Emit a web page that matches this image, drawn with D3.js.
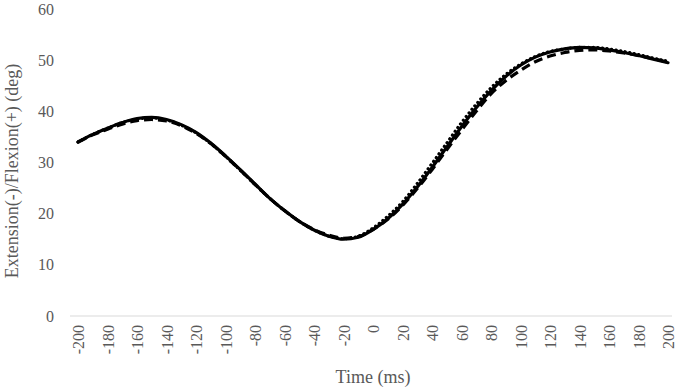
<!DOCTYPE html>
<html>
<head>
<meta charset="utf-8">
<script src="https://cdn.jsdelivr.net/npm/d3@7"></script>
<style>
    body { margin: 0; background: #fff; }
    svg text { font-family: "Liberation Serif", "Times New Roman", serif; fill: #595959; }
</style>
</head>
<body>
<svg id="chart"></svg>
<script>
// time in ms, every 10 ms
const times = [-200, -190, -180, -170, -160, -150, -140, -130, -120, -110, -100,
    -90, -80, -70, -60, -50, -40, -30, -20, -10, 0,
    10, 20, 30, 40, 50, 60, 70, 80, 90, 100,
    110, 120, 130, 140, 150, 160, 170, 180, 190, 200]

const solidValues = [34.0, 35.5, 36.7, 37.8, 38.6, 38.8, 38.4, 37.4, 35.9, 33.8, 31.3,
    28.6, 25.8, 23.0, 20.6, 18.5, 16.8, 15.6, 15.0, 15.4, 16.9,
    19.0, 21.8, 25.2, 29.0, 33.0, 37.0, 40.7, 44.0, 46.8, 49.0,
    50.6, 51.6, 52.2, 52.5, 52.4, 52.0, 51.5, 50.9, 50.2, 49.5]

const dashedValues = [34.0, 35.4, 36.5, 37.5, 38.2, 38.4, 38.1, 37.2, 35.7, 33.7, 31.2,
    28.5, 25.7, 23.0, 20.6, 18.5, 16.9, 15.8, 15.2, 15.5, 16.9,
    18.9, 21.6, 24.9, 28.6, 32.5, 36.3, 40.0, 43.4, 46.0, 48.0,
    49.7, 50.8, 51.5, 51.9, 52.0, 51.8, 51.4, 50.9, 50.3, 49.6]

const dottedValues = [34.0, 35.5, 36.7, 37.8, 38.5, 38.7, 38.3, 37.3, 35.8, 33.7, 31.2,
    28.5, 25.7, 23.0, 20.6, 18.5, 16.8, 15.6, 15.1, 15.6, 17.2,
    19.5, 22.3, 25.9, 29.8, 33.8, 37.8, 41.4, 44.6, 47.2, 49.2,
    50.7, 51.7, 52.2, 52.5, 52.5, 52.2, 51.7, 51.1, 50.4, 49.8]

const yTicks = [0, 10, 20, 30, 40, 50, 60]
const xTicks = d3.range(-200, 201, 20)

const series = [
    {name: "solid", values: solidValues, dash: null, cap: "round"},
    {name: "dashed", values: dashedValues, dash: "9,5", cap: "butt"},
    {name: "dotted", values: dottedValues, dash: "0.1,4.5", cap: "round"},
]

const width = 676, height = 392
const svg = d3.select("#chart")
    .attr("width", width)
    .attr("height", height)

const xScale = d3.scaleLinear()
    .domain([-200, 200])
    .range([78, 668])

const yScale = d3.scaleLinear()
    .domain([0, 60])
    .range([316, 9])

// plain hyphen minus like the original
const plain = (d) => String(d)

// y axis: labels only
const yAxis = svg.append("g")
    .attr("transform", "translate(58,0)")
    .call(d3.axisLeft(yScale).tickValues(yTicks).tickFormat(plain).tickSize(0).tickPadding(4))
yAxis.attr("font-family", null).attr("font-size", null)
yAxis.select(".domain").remove()
yAxis.selectAll("text")
    .attr("font-size", "16px")
    .attr("fill", "#595959")

// x axis
const xAxis = svg.append("g")
    .attr("transform", "translate(0,316)")
    .call(d3.axisBottom(xScale).tickValues(xTicks).tickFormat(plain).tickSize(0))
xAxis.attr("font-family", null).attr("font-size", null)
xAxis.select(".domain").remove()
xAxis.append("line")
    .attr("x1", 70).attr("x2", 672)
    .attr("stroke", "#d9d9d9").attr("stroke-width", 1)
xAxis.selectAll(".tick text")
    .attr("font-size", "16px")
    .attr("fill", "#595959")
    .attr("text-anchor", "end")
    .attr("transform", "rotate(-90)")
    .attr("x", -9)
    .attr("y", 0)
    .attr("dy", "0.35em")

// lines
const line = d3.line()
    .x((d, i) => xScale(times[i]))
    .y((d) => yScale(d))
    .curve(d3.curveMonotoneX)

svg.selectAll("path.series")
    .data(series)
    .enter().append("path")
    .attr("class", "series")
    .attr("d", (d) => line(d.values))
    .attr("fill", "none")
    .attr("stroke", "#000")
    .attr("stroke-width", 3.2)
    .attr("stroke-linecap", (d) => d.cap)
    .attr("stroke-dasharray", (d) => d.dash)

// axis titles
svg.append("text")
    .attr("x", 373)
    .attr("y", 383)
    .attr("text-anchor", "middle")
    .attr("font-size", "18px")
    .text("Time (ms)")

svg.append("text")
    .attr("transform", "translate(18,171) rotate(-90)")
    .attr("text-anchor", "middle")
    .attr("font-size", "18px")
    .text("Extension(-)/Flexion(+) (deg)")
</script>
</body>
</html>
